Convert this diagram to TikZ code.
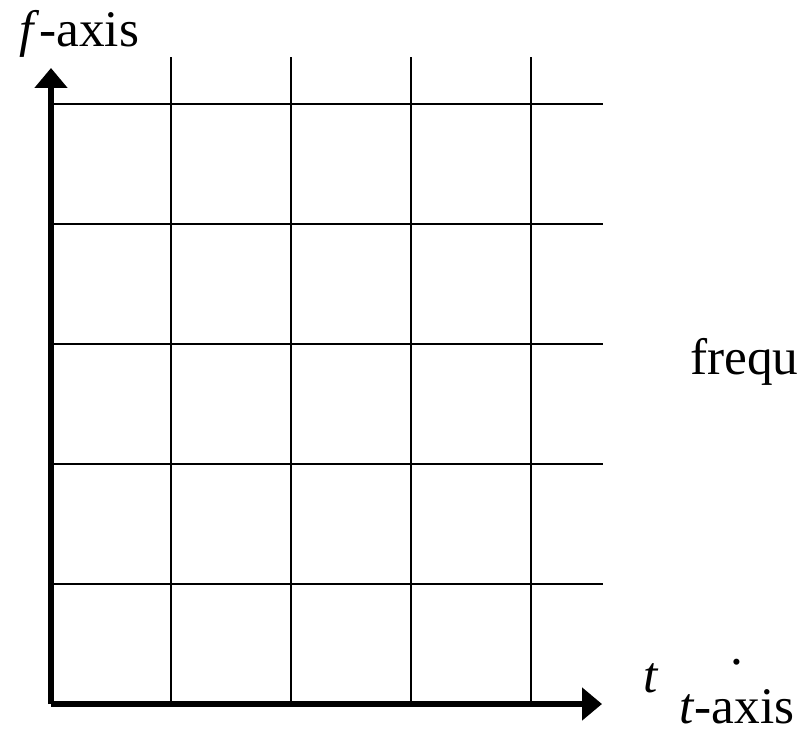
\documentclass[tikz,border=0pt]{standalone}
\usepackage{fontspec}
\setmainfont{Liberation Serif}
\usepackage{tikz}
\usetikzlibrary{arrows.meta, positioning}

\tikzset{
  gridline/.style={line width=1.1pt, black},
  axisline/.style={line width=3.6pt, black, -{Triangle[width=0.8cm, length=0.5cm]}},
  axislabel/.style={inner sep=0pt, anchor=base west, font=\fontsize{36.5}{44}\selectfont}
}

\begin{document}
\begin{tikzpicture}[x=1cm, y=1cm]
\useasboundingbox (-1.275,-0.775) rectangle (18.75,17.6);
\coordinate (origin) at (0,0);
\coordinate (ftop) at (0,15.9);
\coordinate (tend) at (13.775,0);
% grid
\foreach \i in {1,...,4}
{
    \draw[gridline] (3*\i, 0) -- (3*\i, 16.175);
}
\foreach \j in {1,...,5}
{
    \draw[gridline] (0, 3*\j) -- (13.8, 3*\j);
}
% axes
\draw[axisline] (origin) -- (ftop);
\draw[axisline] (origin) -- (tend);
% labels
\node[axislabel] (flabel) at (-0.8, 16.425) {\textit{f}-axis};
\node[axislabel] (tsmall) at (14.8, 0.3) {\textit{t}};
\node[axislabel, anchor=base] (dot) at (17.15, 1.0) {.};
\node[axislabel] (tlabel) at (15.7, -0.475) {\textit{t}-axis};
\node[axislabel] (frequ) at (15.975, 8.225) {frequ};
\end{tikzpicture}
\end{document}
